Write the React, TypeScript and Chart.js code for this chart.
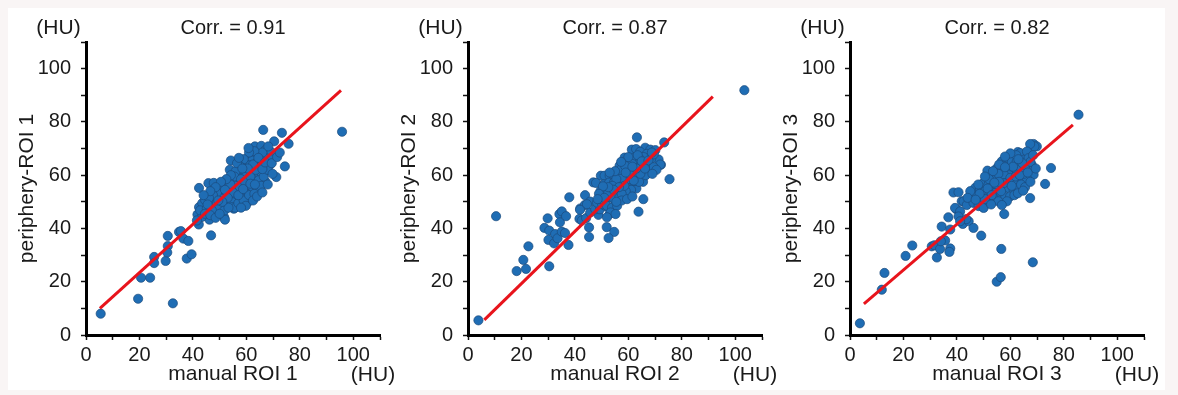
import { useEffect, useRef } from 'react';
import { Chart, registerables } from 'chart.js';

Chart.register(...registerables);

const corrLabels = ['Corr. = 0.91', 'Corr. = 0.87', 'Corr. = 0.82'];
const xTitles = ['manual ROI 1', 'manual ROI 2', 'manual ROI 3'];
const yTitles = ['periphery-ROI 1', 'periphery-ROI 2', 'periphery-ROI 3'];
const unitLabel = '(HU)';
const axisMin = 0;
const axisMax = 110;
const tickStep = 10;
const labelStep = 20;
const labelMax = 100;

const roi1Points: [number, number][] = [
  [5.5, 8], [19.5, 13.6], [20.6, 21.5], [24, 21.5], [25.5, 29.3], [25.5, 27], [29.8, 27.8],
  [30.6, 37.2], [30.6, 33.4], [30.4, 31], [32.5, 11.9], [34.8, 38.7], [35.5, 39], [36.4, 36.2],
  [38.3, 35.3], [37.7, 28.7], [39.5, 30.3], [46.8, 37.4], [42.3, 55.2], [45.8, 57.0], [47.8, 57.1],
  [42.2, 41.5], [46.2, 43.3], [51.7, 44.2], [52, 43.3], [48.3, 46.8], [54.2, 65.5], [53.8, 62],
  [66.3, 77], [73.3, 75.9], [70.4, 72.7], [75.8, 71.8], [63.2, 70.8], [65.6, 71], [67.2, 69.5],
  [69.3, 68.7], [70.5, 67.3], [74.4, 63.3], [71.2, 59.3], [65.8, 57.7], [67.1, 57.6], [60.6, 49.9],
  [61.8, 51.3], [55.3, 47.4], [95.8, 76.3], [41.7, 45.2], [43.3, 44.3], [42.3, 48], [43.5, 49.5],
  [44.6, 50.6], [42.7, 46.8], [41.5, 43],
  [62.1, 67.2], [64, 67.7], [60.2, 66.2], [62.1, 65.5], [64, 64.9], [65.8, 65.5], [67.7, 66.2],
  [59.6, 64.3], [61.4, 63.7], [63.3, 63.1], [65.2, 63.1], [58.3, 61.8], [60.2, 61.2], [62.1, 61.2],
  [64, 60.5], [65.8, 60.5], [67.3, 61.8], [57.1, 59.9], [58.9, 59.3], [60.8, 58.7], [62.7, 58.1],
  [64.6, 58.1], [54.6, 58.1], [56.4, 57.4], [58.3, 56.8], [60.2, 56.2], [62.1, 55.5], [64, 54.9],
  [52.7, 55.5], [54.6, 54.9], [56.4, 54.3], [58.3, 53.7], [60.2, 53], [50.8, 53.7], [52.7, 53],
  [54.6, 52.4], [56.4, 51.8], [58.3, 51.2], [48.9, 51.8], [50.8, 51.2], [52.7, 50.5], [54.6, 49.9],
  [47.1, 49.9], [48.9, 49.3], [50.8, 48.7], [54.6, 48], [55.8, 47.8], [49.6, 47.4], [51.8, 46.8],
  [53.3, 47.8], [45.2, 47.5], [47.1, 46.8],
  [66.5, 64], [68.5, 63.5], [69, 66], [66, 68.5], [63, 69], [61, 68.5], [59, 66], [57.5, 63.5],
  [56, 61.5], [55.5, 59.5], [53.5, 57.5], [51.5, 56.5], [50, 55], [49, 53.5], [47.5, 52.5],
  [46, 51.5], [45.5, 49], [57, 49.5], [59, 50.5], [61, 52.5], [63, 53], [65.5, 56], [66.5, 59.5],
  [68, 62], [60, 60], [58, 58.5], [56, 56], [54, 56.5], [52, 54.5], [57.5, 55.5], [59.5, 57.5],
  [61.5, 59.5], [63.5, 62], [62.5, 64], [60.5, 62.5], [55, 53.5], [53, 51.5], [51, 50], [49.5, 50.5],
  [57, 52.5], [58.8, 54.8], [61.5, 56.8], [63.2, 56.5], [66, 62.3], [64.5, 66.5], [67, 64.8],
  [69.5, 64.5], [71.5, 66.8], [72.5, 68.5], [68.2, 70.8], [56.5, 64.5], [57.2, 66.5], [60.8, 70.2],
  [58.5, 62.5], [54.2, 60], [52.5, 58.5], [50.5, 57.5], [48.5, 55.5], [46.5, 54], [44, 52.5],
  [44.5, 45.5], [46.5, 45], [48.5, 44], [50, 45.5], [59.8, 48.5], [62.5, 50.5], [64, 52], [66, 53.5],
  [68, 56.5], [69.8, 60.5], [58, 47.8],
];

const roi2Points: [number, number][] = [
  [3.9, 5.5], [10.5, 44.6], [18.2, 24], [20.7, 28.2], [21.7, 24.8], [22.6, 33.3], [28.6, 40.2],
  [29.8, 43.8], [30.4, 25.8], [30.4, 39.2], [32.6, 37.9], [30.1, 35.7], [32.2, 34.4], [33.5, 36.3],
  [34.2, 45.4], [35.1, 46.4], [34.4, 42.3], [35.1, 38.8], [36.3, 38.3], [36.7, 44.6], [37.6, 33.8],
  [37.9, 51.7], [41.7, 43.6], [42.6, 43], [44.2, 43.9], [43.8, 52.5], [42, 47.5], [43.7, 48.8],
  [45.7, 50.1], [45.3, 40.4], [45.3, 36.8], [46.9, 57.3], [48.8, 45.1], [51.9, 40.5], [54.7, 38.7],
  [52.6, 36.4], [53.1, 45.5], [49.7, 59.8], [63.2, 74.2], [73.4, 72.3], [75.4, 58.5], [72.2, 63.9],
  [71.3, 65.9], [65.6, 51], [63.8, 46.3], [103.4, 91.9], [45.7, 46], [47.6, 47.2], [49.4, 47.2],
  [51.3, 48.5], [53.2, 47.2], [44.5, 49.1], [41.9, 47],
  [61.3, 69.6], [62.9, 69.8], [66.3, 70.3], [68.2, 69.6], [70.1, 69.4], [64.4, 68.8], [66.9, 68],
  [65.7, 66.8], [71.9, 64], [62.2, 66.6], [64.4, 66], [63.3, 64], [64.4, 63.5], [59.8, 64.8],
  [58.6, 66.6], [56.7, 63.5], [58.6, 62.2], [60.5, 62.2], [62.3, 61.6], [64.8, 61.6], [67.3, 61.6],
  [56.1, 61], [58, 60.4], [59.8, 59.8], [61.7, 59.1], [63.6, 59.1], [65.4, 59.8], [67.9, 61],
  [51.1, 59.8], [53, 59.8], [54.8, 59.1], [47.9, 57.1], [49.6, 54.1], [51.5, 53.5], [53.3, 54.1],
  [55.2, 54.7], [57.1, 55.4], [50.9, 56.6], [52.8, 57.2], [54.7, 57.4], [56.6, 57.9], [58.5, 57.2],
  [60.4, 56.6], [62.3, 56], [52.8, 51.6], [54.7, 51], [56.6, 51.6], [58.5, 52.2], [60.4, 52.9],
  [48.3, 49.7], [50.2, 49.1], [52, 48.5], [53.9, 47.8], [55.8, 48.5], [53.3, 46], [55.2, 45.4],
  [52, 44.2], [49.4, 51], [50.7, 52.8], [52.5, 53.5],
  [66, 64.5], [68.5, 66], [69.5, 67.8], [67, 63], [65.5, 57.5], [63, 55], [61, 54.5], [59, 54],
  [57.5, 53], [62.5, 57.8], [60, 58.5], [57.5, 59], [55.5, 58.5], [54, 56], [57, 62], [55, 61.5],
  [53, 61], [61.5, 64.2], [63.5, 67.5], [60, 66.8], [65, 65.2], [67.5, 65.5], [69.5, 63], [70.5, 62],
  [66.5, 60], [64, 57.5], [58.5, 56], [56.5, 55.5], [54.5, 54.5], [52.5, 55.5], [50.5, 55.8],
  [49, 53], [51, 51.5], [48.5, 51], [57.5, 50.5], [59.5, 51], [61.5, 52], [55.5, 50], [62, 58],
  [64.5, 60.5], [68.8, 68.5], [60.5, 60.5], [63, 62.5], [58.8, 63.5], [57.3, 65], [59, 61],
  [61.5, 63.2], [66.2, 62.5], [69, 60.5],
];

const roi3Points: [number, number][] = [
  [3.7, 4.4], [11.9, 17], [12.9, 23.3], [20.8, 29.7], [23.3, 33.6], [30.6, 33.3], [31.6, 33.7],
  [32.5, 29.1], [33.7, 32.3], [34.3, 40.7], [35.6, 35.5], [34, 35.2], [36.8, 44.2], [37.5, 32.5],
  [37.2, 31.2], [37.5, 39.6], [38.7, 53.5], [40.6, 53.6], [41.8, 50.2], [39.9, 47.1], [42.2, 41.7],
  [44.4, 42.7], [46.2, 40.2], [49.1, 37.3], [46.2, 52.7], [51.4, 61.7], [57.7, 45.4], [56.6, 32.3],
  [54.9, 20], [56.4, 21.7], [68.4, 27.3], [67.4, 51.4], [73, 56.7], [75.2, 62.7], [68.7, 71.7],
  [69.9, 70.8], [85.5, 82.7], [66.7, 68.9], [62.8, 68.7], [39.3, 47.7], [41.2, 46.4], [40.6, 44.5],
  [42.5, 50.2], [43.7, 48.8], [43.5, 43.5], [41.2, 42.7],
  [69, 70.8], [67.4, 71.7], [63.7, 68.3], [66.2, 68.9], [59.3, 66.4], [61.2, 66.7], [56.8, 65.2],
  [58.7, 64.6], [60.6, 65], [62.4, 65.2], [64.9, 65.8], [66.8, 66.4], [68, 63.9], [66.8, 62],
  [68.7, 60.2], [54.9, 62.6], [56.8, 62], [58.7, 62], [60.6, 61.4], [62.4, 61.7], [64.3, 62],
  [65.5, 63.3], [53.1, 59.5], [54.9, 58.8], [56.8, 58.2], [58.7, 58.2], [60.6, 57.6], [62.4, 57.6],
  [64.3, 58.2], [66.2, 58.8], [49.9, 57.1], [51.8, 56.4], [53.7, 55.8], [55.5, 55.8], [57.4, 55.2],
  [59.3, 55.2], [61.2, 54.5], [63, 55.2], [46.8, 55.2], [48.6, 54.5], [50.5, 53.9], [52.4, 53.9],
  [54.3, 53.3], [56.2, 52.7], [58.1, 52], [59.9, 52], [45.5, 52.7], [47.4, 52], [49.3, 51.4],
  [46.2, 49.6], [48.1, 48.4], [50, 47.7], [51.9, 50.2], [58.7, 50.2], [53.7, 51.4], [55.5, 50.2],
  [65, 60.5], [67.5, 65], [63, 63.5], [61, 63.2], [59.5, 60], [57.5, 60.3], [55.5, 60.5],
  [53.5, 61.5], [52, 58.5], [50.5, 59.5], [48, 56.5], [57.5, 63.5], [60, 59], [62, 59.5], [64, 56.5],
  [65.5, 55.5], [61.5, 52.5], [57.5, 57], [55.8, 57.5], [54, 57.2], [51.5, 55], [53, 52.5],
  [56.5, 54], [60.5, 56], [63.5, 60], [66.5, 61], [67.5, 57.5], [69.5, 62.5], [68.5, 67.5],
  [64.5, 64.5], [62.2, 67.5], [60, 68.2], [58, 67], [55.8, 64], [50.5, 51], [48.5, 53], [45, 54],
  [44, 51.5], [47, 50.8], [62.8, 53.2], [64.8, 54.2], [52.8, 49], [56.8, 48.8], [58, 63], [63, 66],
];

const fit1: [number, number][] = [[5.2, 10.0], [95.4, 91.8]];
const fit2: [number, number][] = [[6.1, 5.7], [91.6, 89.5]];
const fit3: [number, number][] = [[5.2, 11.7], [83.4, 78.9]];

const panelPoints = [roi1Points, roi2Points, roi3Points];
const panelFits = [fit1, fit2, fit3];

const FONT = '"Liberation Sans", Arial, sans-serif';
const TEXT = '#1a1a1a';
const PANEL_STEP = 382;
const CANVAS_W = 400;
const CANVAS_H = 382;

function tickLabel(v: number | string) {
  const n = Number(v);
  return n % labelStep === 0 && n <= labelMax ? String(n) : '';
}

function Panel({ index }: { index: number }) {
  const ref = useRef<HTMLCanvasElement | null>(null);

  useEffect(() => {
    if (!ref.current) return;
    const textPlugin = {
      id: 'hutext' + index,
      afterDraw(chart: any) {
        const { ctx, chartArea } = chart;
        ctx.save();
        ctx.fillStyle = TEXT;
        ctx.textBaseline = 'middle';
        ctx.textAlign = 'center';
        ctx.font = `20px ${FONT}`;
        ctx.fillText(corrLabels[index], (chartArea.left + chartArea.right) / 2, chartArea.top - 14);
        ctx.font = `21px ${FONT}`;
        ctx.fillText(unitLabel, chartArea.left - 27.5, chartArea.top - 14);
        ctx.fillText(unitLabel, chartArea.right - 7, chartArea.bottom + 40);
        ctx.restore();
      },
    };
    const axisCommon = {
      type: 'linear' as const,
      min: axisMin,
      max: axisMax,
      grid: {
        display: true,
        drawOnChartArea: false,
        drawTicks: true,
        tickLength: 5,
        tickWidth: 1.5,
        tickColor: '#111',
      },
      border: { display: true, width: 3, color: '#000' },
    };
    const chart = new Chart(ref.current, {
      type: 'scatter',
      data: {
        datasets: [
          {
            type: 'line',
            data: panelFits[index].map(([x, y]) => ({ x, y })),
            borderColor: '#e8141c',
            borderWidth: 3,
            pointRadius: 0,
            fill: false,
            order: 0,
          } as any,
          {
            data: panelPoints[index].map(([x, y]) => ({ x, y })),
            backgroundColor: '#1f6db4',
            borderColor: '#1b4a7c',
            borderWidth: 0.7,
            pointRadius: 4.6,
            order: 1,
          },
        ],
      },
      options: {
        animation: false,
        responsive: false,
        layout: { padding: { top: 34, right: 28, left: 0, bottom: 0 } },
        plugins: { legend: { display: false }, tooltip: { enabled: false }, title: { display: false } },
        scales: {
          x: {
            ...axisCommon,
            ticks: { stepSize: tickStep, autoSkip: false, maxRotation: 0, padding: 3, color: TEXT, font: { size: 20, family: FONT }, callback: tickLabel },
            title: { display: true, text: xTitles[index], color: TEXT, font: { size: 21, family: FONT }, padding: { top: 0, bottom: 3 } },
            afterFit: (s: any) => { s.height = 55; },
          },
          y: {
            ...axisCommon,
            ticks: { stepSize: tickStep, autoSkip: false, padding: 10, color: TEXT, font: { size: 20, family: FONT }, callback: tickLabel },
            title: { display: true, text: yTitles[index], color: TEXT, font: { size: 21, family: FONT }, padding: { top: 7, bottom: 0 } },
            afterFit: (s: any) => { s.width = 78; },
          },
        },
      },
      plugins: [textPlugin],
    } as any);
    return () => chart.destroy();
  }, [index]);

  return (
    <div style={{ position: 'absolute', left: index * PANEL_STEP, top: 0, width: CANVAS_W, height: CANVAS_H }}>
      <canvas ref={ref} width={CANVAS_W} height={CANVAS_H} style={{ width: CANVAS_W, height: CANVAS_H, display: 'block' }} />
    </div>
  );
}

export default function App() {
  useEffect(() => {
    document.body.style.background = '#f9f5f5';
  }, []);
  return (
    <div style={{ position: 'relative', width: 1157, height: 382, background: '#ffffff', overflow: 'hidden' }}>
      {[0, 1, 2].map((i) => (
        <Panel key={i} index={i} />
      ))}
    </div>
  );
}
